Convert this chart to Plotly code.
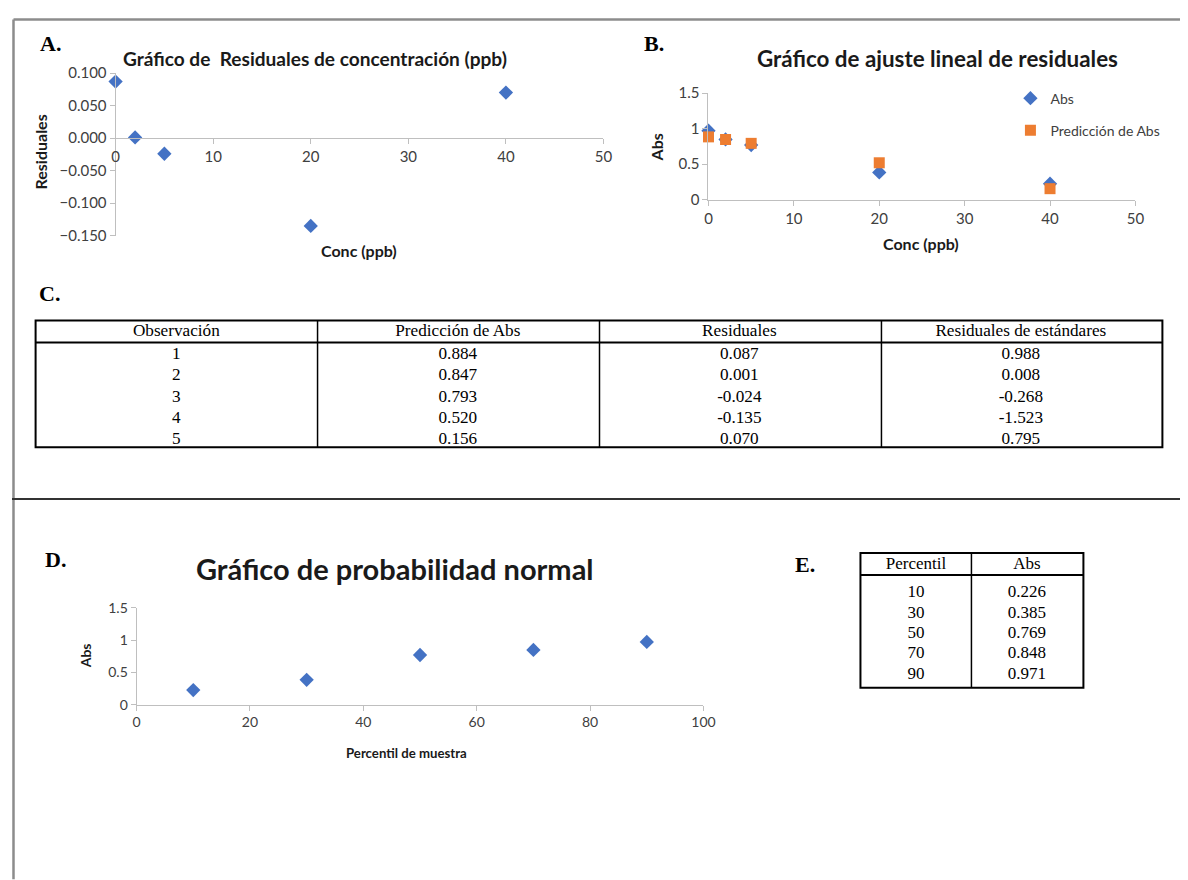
import plotly.graph_objects as go

# Figure size, plus the measured placement of the figure in the photographed page
W, H = 1188, 880
OX, OY = 11.4, 16.8      # where the figure's top-left corner lands in the photo
SX, SY = 0.9867, 0.9818  # photo pixels per figure pixel


def px(x):
    """photo x (px) -> paper x"""
    return (x - OX) / SX / W


def py(y):
    """photo y (px, from top) -> paper y"""
    return 1 - (y - OY) / SY / H


# ---------------- data ----------------
conc = [0, 2, 5, 20, 40]
residuales = [0.087, 0.001, -0.024, -0.135, 0.070]
abs_obs = [0.971, 0.848, 0.769, 0.385, 0.226]
abs_pred = [0.884, 0.847, 0.793, 0.520, 0.156]
res_std = [0.988, 0.008, -0.268, -1.523, 0.795]
observacion = [1, 2, 3, 4, 5]
percentil = [10, 30, 50, 70, 90]
abs_percentil = [0.226, 0.385, 0.769, 0.848, 0.971]

tabla_c_headers = ["Observación", "Predicción de Abs", "Residuales", "Residuales de estándares"]
tabla_e_headers = ["Percentil", "Abs"]

BLUE = "#4472C4"
ORANGE = "#ED7D31"
SANS = "Lato"
SERIF = "Liberation Serif"
AXC = "#BFBFBF"
TICKC = "#404040"
TXT = "#1a1a1a"
CLEAR = "rgba(0,0,0,0)"

fig = go.Figure()

# ---------------- Panel A ----------------
fig.add_trace(go.Scatter(x=conc, y=residuales, mode="markers", name="Residuales",
                         marker=dict(symbol="diamond", size=11, color=BLUE),
                         xaxis="x", yaxis="y", showlegend=False, cliponaxis=False))

# ---------------- Panel B ----------------
fig.add_trace(go.Scatter(x=conc, y=abs_obs, mode="markers", name="Abs",
                         marker=dict(symbol="diamond", size=11, color=BLUE),
                         xaxis="x2", yaxis="y2", legendgroup="a", cliponaxis=False))
fig.add_trace(go.Scatter(x=conc, y=abs_pred, mode="markers", name="Predicción de Abs",
                         marker=dict(symbol="square", size=11, color=ORANGE),
                         xaxis="x2", yaxis="y2", legendgroup="b", cliponaxis=False))

# ---------------- Panel D ----------------
fig.add_trace(go.Scatter(x=percentil, y=abs_percentil, mode="markers", name="Abs",
                         marker=dict(symbol="diamond", size=11, color=BLUE),
                         xaxis="x3", yaxis="y3", showlegend=False, cliponaxis=False))

# ---------------- Table C ----------------
font_c = dict(family=SERIF, size=17.2, color="black")
noline = dict(color=CLEAR, width=0)
fig.add_trace(go.Table(
    domain=dict(x=[px(35), px(1162)], y=[py(456), py(315)]),
    columnwidth=[1, 1, 1, 1],
    header=dict(values=tabla_c_headers, height=22.4, align="center", font=font_c,
                fill_color=CLEAR, line=noline),
    cells=dict(values=[observacion, abs_pred, residuales, res_std],
               format=["", ".3f", ".3f", ".3f"], height=21.4, align="center",
               font=font_c, fill_color=CLEAR, line=noline),
))

# ---------------- Table E ----------------
font_e = dict(family=SERIF, size=17, color="black")
fig.add_trace(go.Table(
    domain=dict(x=[px(860), px(1083)], y=[py(692), py(548)]),
    columnwidth=[1, 1],
    header=dict(values=tabla_e_headers, height=28.5, align="center", font=font_e,
                fill_color=CLEAR, line=noline),
    cells=dict(values=[percentil, abs_percentil], format=["", ".3f"], height=20.4,
               align="center", font=font_e, fill_color=CLEAR, line=noline),
))

# ---------------- axes ----------------
def axis_style(size=15):
    return dict(showgrid=False, zeroline=False, showline=True, linecolor=AXC, linewidth=1,
                ticks="outside", ticklen=5, tickcolor=AXC,
                tickfont=dict(family=SANS, size=size, color=TICKC))


yA_range = [-0.15, 0.1]
yA_dom = [py(235), py(72)]
xA_pos = yA_dom[0] + (0 - yA_range[0]) / (yA_range[1] - yA_range[0]) * (yA_dom[1] - yA_dom[0])

fig.update_layout(
    xaxis=dict(domain=[px(115), px(603)], range=[0, 50], dtick=10, anchor="free",
               position=xA_pos, **axis_style(15)),
    yaxis=dict(domain=yA_dom, range=yA_range, dtick=0.05, tickformat=".3f", anchor="x",
               **axis_style(15)),
    xaxis2=dict(domain=[px(708), px(1135)], range=[0, 50], dtick=10, anchor="y2", **axis_style(15)),
    yaxis2=dict(domain=[py(199), py(92)], range=[0, 1.5], dtick=0.5, anchor="x2", **axis_style(15)),
    xaxis3=dict(domain=[px(136), px(703)], range=[0, 100], dtick=20, anchor="y3", **axis_style(14)),
    yaxis3=dict(domain=[py(705), py(608)], range=[0, 1.5], dtick=0.5, anchor="x3", **axis_style(14)),
)

# ---------------- annotations ----------------
ann = []


def text(x, y, s, size, family=SANS, bold=True, angle=0, color=TXT, xanchor="center"):
    ann.append(dict(x=px(x), y=py(y), xref="paper", yref="paper", text=(f"<b>{s}</b>" if bold else s),
                    showarrow=False, textangle=angle, xanchor=xanchor, yanchor="middle",
                    font=dict(family=family, size=size, color=color)))


# panel letters
for lx, ly, lt in [(50, 42, "A."), (654, 42, "B."), (49, 293, "C."), (55, 560, "D."), (805, 565, "E.")]:
    text(lx, ly, lt, 22, family=SERIF, color="black")

# titles
text(314, 57, "Gráfico de\u00a0 Residuales de concentración (ppb)", 19.1)
text(937, 57, "Gráfico de ajuste lineal de residuales", 22.4)
text(394, 569, "Gráfico de probabilidad normal", 29)

# axis titles
text(40, 151, "Residuales", 16, angle=-90)
text(358, 250, "Conc (ppb)", 16)
text(656, 146, "Abs", 16, angle=-90)
text(921, 243, "Conc (ppb)", 16)
text(85, 656, "Abs", 14, angle=-90)
text(406, 753, "Percentil de muestra", 13.2)

# ---------------- shapes (frame + table borders) ----------------
shapes = []


def line(x0, y0, x1, y1, color="black", width=1.5):
    shapes.append(dict(type="line", xref="paper", yref="paper", x0=px(x0), y0=py(y0),
                       x1=px(x1), y1=py(y1), line=dict(color=color, width=width)))


def rect(x0, y0, x1, y1, color="black", width=2):
    shapes.append(dict(type="rect", xref="paper", yref="paper", x0=px(x0), y0=py(y0),
                       x1=px(x1), y1=py(y1), line=dict(color=color, width=width)))


# page frame (kept just inside the drawable area)
top_y = OY + 1.5
left_x = OX + 1.5
line(left_x, top_y, 1188, top_y, color="#8c8c8c", width=2.5)
line(left_x, top_y, left_x, 880, color="#8c8c8c", width=2.5)
line(1182, top_y, 1182, 116, color="#d0d0d0", width=1)
line(1182, 142, 1182, 880, color="#d0d0d0", width=1)
line(OX, 499, 1188, 499, color="#333333", width=2)

# table C
rect(35, 320, 1162, 447)
line(35, 342, 1162, 342, width=2)
for xv in [317, 599, 881]:
    line(xv, 320, xv, 447, width=1.5)

# table E
rect(860, 553, 1083, 688)
line(860, 575, 1083, 575, width=2)
line(971, 553, 971, 688, width=1.5)

fig.update_layout(
    width=W, height=H, margin=dict(l=0, r=0, t=0, b=0),
    paper_bgcolor="white", plot_bgcolor="white",
    annotations=ann, shapes=shapes,
    showlegend=True,
    legend=dict(x=px(1010), y=py(81.5), xanchor="left", yanchor="top",
                font=dict(family=SANS, size=14, color=TICKC),
                bgcolor=CLEAR, tracegroupgap=11, traceorder="grouped"),
)

fig.write_html("out.html")
